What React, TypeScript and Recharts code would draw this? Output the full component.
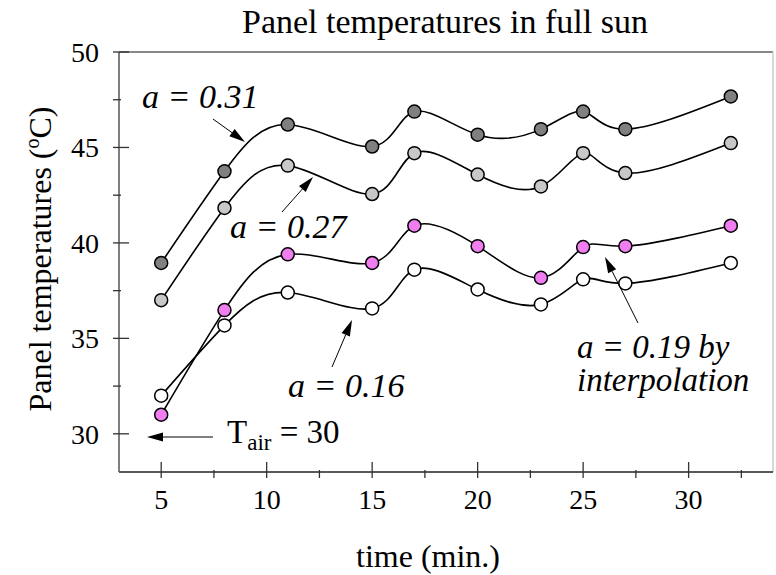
import React from 'react';
import { LineChart, Line, XAxis, YAxis, ReferenceLine } from 'recharts';

const times = [5, 8, 11, 15, 17, 20, 23, 25, 27, 32];
const a031 = [38.95, 43.75, 46.2, 45.05, 46.88, 45.67, 45.96, 46.88, 45.96, 47.67];
const a027 = [37.0, 41.83, 44.05, 42.56, 44.7, 43.58, 42.96, 44.7, 43.66, 45.23];
const a019 = [31.0, 36.48, 39.4, 38.95, 40.9, 39.83, 38.17, 39.78, 39.83, 40.9];
const a016 = [32.0, 35.68, 37.4, 36.57, 38.6, 37.56, 36.78, 38.09, 37.88, 38.95];

const xTicks = [5, 7.5, 10, 12.5, 15, 17.5, 20, 22.5, 25, 27.5, 30, 32.5];
const yTicks = [30, 32.5, 35, 37.5, 40, 42.5, 45, 47.5, 50];

const rows = times.map((t, i) => ({ t, a031: a031[i], a027: a027[i], a019: a019[i], a016: a016[i] }));

const FONT = '"Liberation Serif", "Times New Roman", serif';

const XTick = (props: any) => {
  const { x, y, payload } = props;
  const major = payload.value % 5 === 0;
  return (
    <g>
      <line x1={x} x2={x} y1={y} y2={y - (major ? 16 : 8)} stroke="#333" strokeWidth={1.3} />
      {major && (
        <text x={x} y={y + 31} textAnchor="middle" fontSize={28} fontFamily={FONT} fill="#000">
          {payload.value}
        </text>
      )}
    </g>
  );
};

const YTick = (props: any) => {
  const { x, y, payload } = props;
  const major = payload.value % 5 === 0;
  return (
    <g>
      <line x1={x} x2={x + (major ? 16 : 8)} y1={y} y2={y} stroke="#333" strokeWidth={1.3} />
      {major && (
        <text x={x - 14} y={y} dy="0.35em" textAnchor="end" fontSize={28} fontFamily={FONT} fill="#000">
          {payload.value}
        </text>
      )}
    </g>
  );
};

const Arrow = ({ x1, y1, x2, y2 }: { x1: number; y1: number; x2: number; y2: number }) => {
  const dx = x2 - x1;
  const dy = y2 - y1;
  const len = Math.sqrt(dx * dx + dy * dy);
  const ux = dx / len;
  const uy = dy / len;
  const hl = 16;
  const hw = 4.5;
  const bx = x2 - ux * hl;
  const by = y2 - uy * hl;
  const px = -uy;
  const py = ux;
  return (
    <g>
      <line x1={x1} y1={y1} x2={bx} y2={by} stroke="#000" strokeWidth={1} />
      <polygon
        points={`${x2},${y2} ${bx + px * hw},${by + py * hw} ${bx - px * hw},${by - py * hw}`}
        fill="#000"
      />
    </g>
  );
};

const Ital = ({ x, y, size, children }: { x: number; y: number; size: number; children: React.ReactNode }) => (
  <text x={x} y={y} fontSize={size} fontStyle="italic" fontFamily={FONT} fill="#000">
    {children}
  </text>
);

const dotStyle = (fill: string) => ({ r: 6.5, fill, stroke: '#000', strokeWidth: 1.5 });

export default function App() {
  return (
    <div style={{ position: 'absolute', left: 0, top: 0, width: 776, height: 575, background: '#fff' }}>
      <LineChart
        width={776}
        height={575}
        data={rows}
        margin={{ top: 52, right: 3, bottom: 43, left: 59 }}
      >
        <XAxis
          type="number"
          dataKey="t"
          domain={[3, 34]}
          ticks={xTicks}
          interval={0}
          height={60}
          tickLine={false}
          tickMargin={0}
          tick={<XTick />}
          axisLine={{ stroke: '#222', strokeWidth: 1.6 }}
        />
        <YAxis
          type="number"
          domain={[28, 50]}
          ticks={yTicks}
          interval={0}
          width={60}
          tickLine={false}
          tickMargin={0}
          tick={<YTick />}
          axisLine={{ stroke: '#555', strokeWidth: 1.5 }}
        />
        <ReferenceLine y={50} stroke="#888" strokeWidth={2} />
        <ReferenceLine x={34} stroke="#ccc" strokeWidth={1.5} />
        <Line
          dataKey="a016"
          type="natural"
          stroke="#000"
          strokeWidth={1.6}
          dot={dotStyle('#ffffff')}
          isAnimationActive={false}
        />
        <Line
          dataKey="a019"
          type="natural"
          stroke="#000"
          strokeWidth={1.6}
          dot={dotStyle('#f07ef0')}
          isAnimationActive={false}
        />
        <Line
          dataKey="a027"
          type="natural"
          stroke="#000"
          strokeWidth={1.6}
          dot={dotStyle('#c8c8c8')}
          isAnimationActive={false}
        />
        <Line
          dataKey="a031"
          type="natural"
          stroke="#000"
          strokeWidth={1.6}
          dot={dotStyle('#808080')}
          isAnimationActive={false}
        />
      </LineChart>
      <svg
        width={776}
        height={575}
        style={{ position: 'absolute', left: 0, top: 0, pointerEvents: 'none' }}
        fontFamily={FONT}
      >
        <text x={445} y={33} textAnchor="middle" fontSize={34} fill="#000">
          Panel temperatures in full sun
        </text>
        <text x={428} y={567} textAnchor="middle" fontSize={32} fill="#000">
          time (min.)
        </text>
        <text transform="translate(51,259) rotate(-90)" textAnchor="middle" fontSize={32} fill="#000">
          Panel temperatures (<tspan dy={-12} fontSize={20}>o</tspan>
          <tspan dy={12}>C)</tspan>
        </text>

        <Ital x={142} y={108} size={34}>a = 0.31</Ital>
        <Arrow x1={213} y1={119} x2={245} y2={142} />

        <Ital x={230} y={238} size={34}>a = 0.27</Ital>
        <Arrow x1={282} y1={212} x2={313} y2={177} />

        <Ital x={288} y={397} size={34}>a = 0.16</Ital>
        <Arrow x1={332} y1={367} x2={352} y2={320} />

        <Ital x={577} y={358} size={33}>a = 0.19 by</Ital>
        <Ital x={577} y={391} size={33}>interpolation</Ital>
        <Arrow x1={638} y1={323} x2={605} y2={257} />

        <text x={227} y={443} fontSize={33} fill="#000">
          T<tspan dy={7} fontSize={23}>air</tspan>
          <tspan dy={-7}> = 30</tspan>
        </text>
        <Arrow x1={213} y1={437} x2={147} y2={437} />
      </svg>
    </div>
  );
}
